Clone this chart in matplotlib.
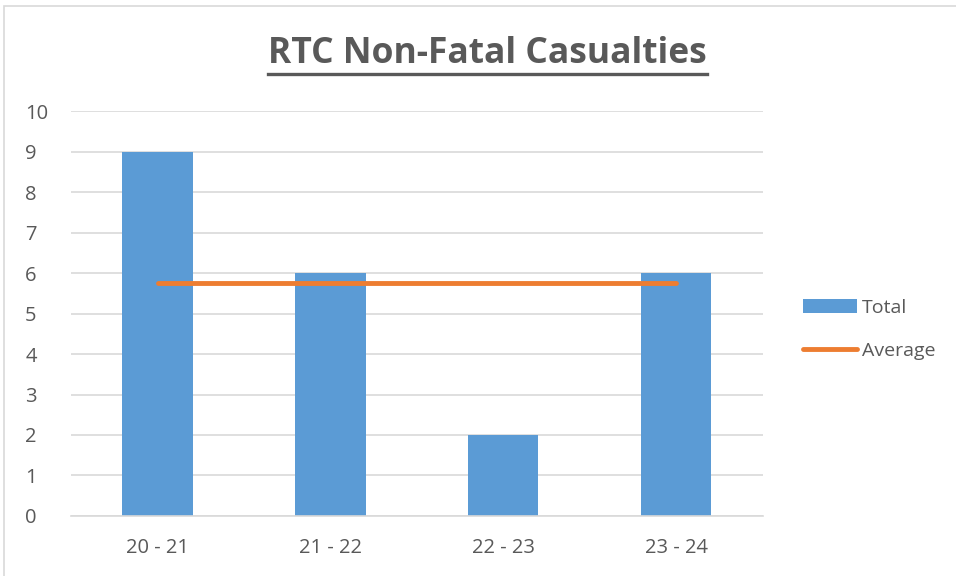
import matplotlib.pyplot as plt
from matplotlib.lines import Line2D
from matplotlib.patches import Rectangle
import numpy as np

plt.rcParams['font.family'] = ['Open Sans', 'DejaVu Sans']

seasons = ["20 - 21", "21 - 22", "22 - 23", "23 - 24"]
totals = [9, 6, 2, 6]
average = [5.75, 5.75, 5.75, 5.75]

grey = "#595959"
blue = "#5b9bd5"
orange = "#ed7d31"

fig = plt.figure(figsize=(9.56, 5.76), dpi=100)
ax = fig.add_axes([0.0743, 0.1042, 0.7237, 0.703])

x = np.arange(len(seasons))
bars = ax.bar(x, totals, width=0.405, color=blue, label="Total", zorder=2)
avg_line, = ax.plot(x, average, color=orange, lw=3.5, solid_capstyle="round", label="Average", zorder=3)

ax.set_xlim(-0.5, len(seasons) - 0.5)
ax.set_ylim(0, 10)
ax.set_yticks(range(0, 11))
ax.set_xticks(x)
ax.set_xticklabels(seasons)
ax.grid(axis="y", color="#d9d9d9", lw=1.2, zorder=0)
for s in ["top", "right", "left"]:
    ax.spines[s].set_visible(False)
ax.spines["bottom"].set_color("#d9d9d9")
ax.spines["bottom"].set_linewidth(1.2)
ax.tick_params(length=0, labelsize=14.5, colors=grey)
ax.tick_params(axis="x", pad=16)
ax.tick_params(axis="y", pad=33)
for lbl in ax.get_yticklabels():
    lbl.set_horizontalalignment("left")

leg = ax.legend([bars, avg_line], ["Total", "Average"], loc="center left",
                bbox_to_anchor=(0.822, 0.428), bbox_transform=fig.transFigure,
                frameon=False, fontsize=14, handlelength=2.75, handletextpad=0.25,
                labelspacing=1.3, labelcolor=grey)

title = fig.text(0.51, 0.906, "RTC Non-Fatal Casualties", ha="center", va="center",
                 fontsize=25.5, fontweight="bold", color=grey)

# outer border of the chart area
fig.add_artist(Rectangle((0.004, -0.01), 1.1, 1.0, transform=fig.transFigure,
                         fill=False, edgecolor="#d9d9d9", lw=1.2))

# underline the title
fig.canvas.draw()
bb = title.get_window_extent().transformed(fig.transFigure.inverted())
fig.add_artist(Line2D([bb.x0, bb.x1], [bb.y0 - 0.003, bb.y0 - 0.003],
                      transform=fig.transFigure, color=grey, lw=2.4))

fig.savefig("out.png", dpi=100)
